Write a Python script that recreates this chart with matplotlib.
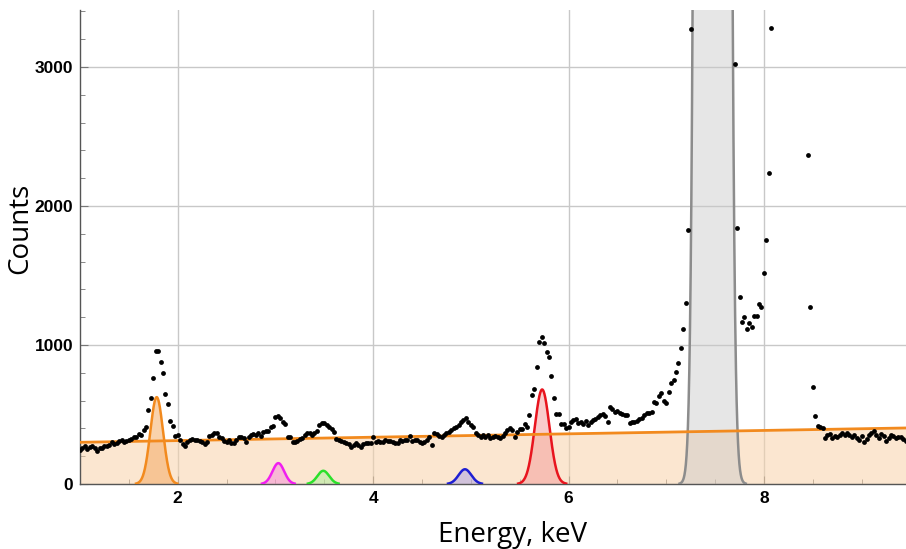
import numpy as np
import matplotlib
matplotlib.use("Agg")
import matplotlib.pyplot as plt
from matplotlib.ticker import MultipleLocator

# ---------------- data ----------------
energy_start = 1.0      # keV, first channel
energy_step = 0.025     # keV per channel

counts = [
    # 1.000 - 1.475
    245, 262, 270, 255, 268, 275, 262, 240, 258, 262, 270, 272, 280, 300, 288, 292, 310, 315, 305, 312,
    # 1.500 - 1.975
    318, 322, 335, 338, 360, 350, 385, 410, 530, 620, 760, 955, 958, 880, 800, 645, 575, 455, 418, 345,
    # 2.000 - 2.475
    350, 320, 285, 275, 300, 318, 322, 318, 315, 309, 299, 285, 300, 345, 352, 364, 369, 340, 333, 311,
    # 2.500 - 2.975
    304, 316, 297, 297, 320, 340, 335, 333, 304, 340, 350, 357, 352, 364, 345, 371, 378, 381, 407, 417,
    # 3.000 - 3.475
    484, 489, 472, 443, 431, 340, 335, 299, 304, 311, 321, 328, 352, 364, 369, 352, 364, 383, 424, 436,
    # 3.500 - 3.975
    436, 424, 407, 393, 376, 321, 316, 311, 304, 295, 287, 263, 280, 297, 280, 268, 285, 297, 292, 297,
    # 4.000 - 4.475
    340, 304, 309, 304, 304, 316, 309, 309, 304, 298, 292, 316, 311, 316, 316, 345, 311, 316, 316, 304,
    # 4.500 - 4.975
    292, 300, 316, 340, 280, 364, 359, 345, 340, 352, 364, 376, 388, 400, 412, 424, 448, 460, 472, 448,
    # 5.000 - 5.475
    424, 412, 369, 352, 340, 352, 340, 352, 328, 340, 345, 340, 328, 345, 364, 388, 400, 388, 335, 376,
    # 5.500 - 5.975
    393, 393, 431, 407, 496, 640, 681, 844, 1024, 1055, 1017, 947, 916, 777, 621, 503, 503, 431, 431, 400,
    # 6.000 - 6.475
    412, 448, 460, 465, 436, 448, 431, 455, 424, 448, 460, 465, 484, 496, 501, 489, 448, 551, 537, 520,
    # 6.500 - 6.975
    527, 508, 503, 496, 496, 441, 448, 448, 455, 465, 472, 496, 513, 508, 520, 592, 580, 633, 652, 599,
    # 7.000 - 7.250
    585, 664, 724, 748, 808, 873, 981, 1112, 1301, 1824, 3270,
    # 7.275 - 7.675 (off scale, above the plot top)
    5200, 9800, 17000, 28000, 43000, 62000, 85000, 108000, 125000, 132000, 128000, 112000, 90000, 66000,
    44000, 27000, 15000,
    # 7.700 - 8.075
    3024, 1839, 1346, 1167, 1203, 1112, 1160, 1127, 1210, 1208, 1294, 1275, 1519, 1753, 2238, 3282,
    # 8.100 - 8.425 (off scale, above the plot top)
    5600, 8800, 12500, 15800, 17500, 17200, 15600, 13000, 10200, 7800, 6200, 5100, 4400, 3900,
    # 8.450 - 8.600
    2367, 1275, 697, 491, 419, 410, 400,
    # 8.625 - 9.450
    330, 350, 362, 332, 348, 340, 355, 365, 352, 370, 350, 340, 352, 330, 318, 342, 300, 322, 352, 365,
    378, 350, 332, 362, 343, 308, 330, 352, 345, 331, 340, 335, 322, 312,
]

# linear background (counts at the two ends of the range)
bg_energy = [1.0, 9.45]
bg_counts = [300, 403]

# fitted gaussian components
peak_centers = [1.785, 3.03, 3.49, 4.94, 5.73, 7.475]
peak_heights = [625, 150, 95, 106, 680, 200000]
peak_sigmas = [0.065, 0.06, 0.06, 0.065, 0.075, 0.072]
peak_colors = ["#F28A1E", "#F01EF0", "#2BE02B", "#1E1ED2", "#E8141E", "#8C8C8C"]
peak_fills = ["#F5A65B", "#F58CD8", "#A8EE9A", "#A9A0E6", "#F59A9A", "#C8C8C8"]

x_ticks = [2, 4, 6, 8]
y_ticks = [0, 1000, 2000, 3000]

# ---------------- plot ----------------
energy = energy_start + energy_step * np.arange(len(counts))
counts_arr = np.array(counts, dtype=float)

fig = plt.figure(figsize=(9.06, 5.49), dpi=100)
ax = fig.add_axes([80 / 906, 65 / 549, 826 / 906, 474 / 549])
ax.set_xlim(1.0, 9.454)
ax.set_ylim(0, 3410)

# background fill + line
xb = np.linspace(bg_energy[0], bg_energy[1], 200)
yb = np.interp(xb, bg_energy, bg_counts)
ax.fill_between(xb, 0, yb, color="#F9D3AA", alpha=0.55, lw=0, zorder=1)

xs = np.linspace(1.0, 9.454, 6000)
for c, h, s, lc, fc in zip(peak_centers, peak_heights, peak_sigmas, peak_colors, peak_fills):
    g = h * np.exp(-0.5 * ((xs - c) / s) ** 2)
    m = g > 3
    alpha = 0.5 if lc != "#8C8C8C" else 0.45
    ax.fill_between(xs[m], 0, g[m], color=fc, alpha=alpha, lw=0, zorder=2)
    ax.plot(xs[m], g[m], color=lc, lw=1.8, zorder=3)

ax.plot(xb, yb, color="#F28A1E", lw=2.0, zorder=4)

ax.scatter(energy, counts_arr, s=12, color="black", zorder=5, linewidths=0, clip_on=True)

# axes styling
for sp in ["top", "right"]:
    ax.spines[sp].set_visible(False)
for sp in ["left", "bottom"]:
    ax.spines[sp].set_color("#555555")
    ax.spines[sp].set_linewidth(1.0)

ax.set_xticks(x_ticks)
ax.set_yticks(y_ticks)
ax.xaxis.set_minor_locator(MultipleLocator(0.5))
ax.yaxis.set_minor_locator(MultipleLocator(200))
ax.tick_params(which="major", direction="in", length=6, width=0.8, color="#777777",
               labelsize=12.5, pad=5)
ax.tick_params(which="minor", direction="in", length=3.5, width=0.7, color="#888888")
for lab in ax.get_xticklabels() + ax.get_yticklabels():
    lab.set_fontweight("bold")
    lab.set_family("Liberation Sans")

ax.grid(True, which="major", color="#C8C8C8", lw=1.0, zorder=0)
ax.set_axisbelow(True)

ax.set_xlabel("Energy, keV", fontsize=20, family="Open Sans")
ax.set_ylabel("Counts", fontsize=20, family="Open Sans")
ax.xaxis.set_label_coords(0.524, -0.108)
ax.xaxis.label.set_va("center")
ax.yaxis.set_label_coords(-0.072, 0.54)
ax.yaxis.label.set_va("center")

fig.savefig("out.png", dpi=100)
